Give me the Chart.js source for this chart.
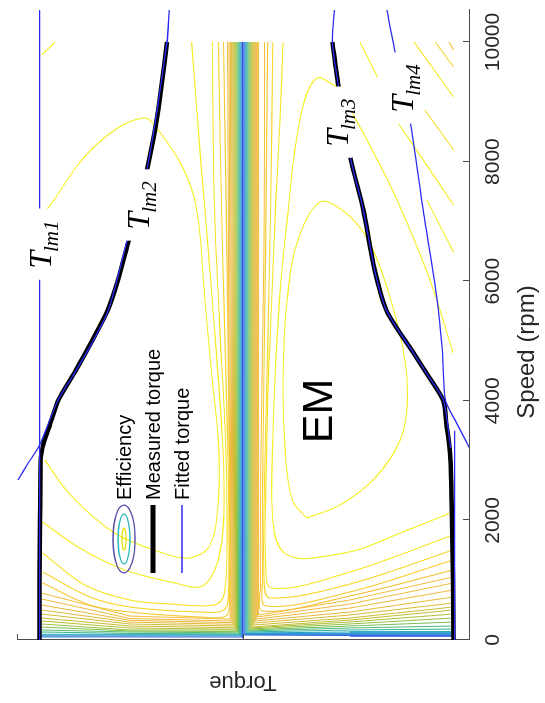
<!DOCTYPE html>
<html>
<head>
<meta charset="utf-8">
<script src="https://cdn.jsdelivr.net/npm/chart.js@4.4.0/dist/chart.umd.min.js"></script>
<style>
  html, body { margin: 0; padding: 0; background: #fff; overflow: hidden; }
  #wrap { position: absolute; left: 0; top: 0; width: 703px; height: 545px;
          transform-origin: 0 0; transform: translate(0, 703px) rotate(-90deg); }
</style>
</head>
<body>
<div id="wrap"><canvas id="chart" width="703" height="545"></canvas></div>
<script>
// axes: speed in rpm, torque in Nm (no torque labels in the figure)
const speedTicks = [0, 2000, 4000, 6000, 8000, 10000];
const torqueTicks = [0, 220];
const speedMax = 10535;

// measured torque envelope
const motorSpeed  = [0, 1000, 2000, 3000, 3300, 3600, 4000, 4500, 5000, 5500, 6000, 6700, 7300, 7900, 8600, 9300, 10000];
const motorTorque = [198, 198, 197.5, 197, 194, 188, 180, 163, 147, 132, 122, 111, 101, 93, 85, 79, 74];
const genSpeed  = [0, 1000, 2000, 3000, 3300, 3600, 4000, 4400, 4800, 5500, 6200, 7200, 8100, 9300, 10000];
const genTorque = [-205, -204.5, -203.5, -202, -200.5, -198, -195, -181, -166, -140, -128, -117, -104, -92.5, -87];

// fitted torque limit lines [speed, torque]
const fitLm1 = [[0, 198], [10535, 198]];
const fitLm2 = [[2676, 219], [2960, 209], [3261, 198], [4013, 180], [4465, 164], [4967, 147], [5518, 131], [6722, 112], [7910, 93], [10000, 74], [10535, 72]];
const fitLm3 = [[3210, -202], [4013, -195], [4400, -181], [4800, -166], [5500, -140], [6200, -128], [7200, -117], [8100, -104], [9300, -92.5], [10000, -87], [10535, -89]];
const fitLm4 = [[3194, -221], [3595, -209], [4013, -197], [4849, -194], [5686, -189], [7224, -175], [8645, -163], [9833, -148], [10535, -140]];
const fitGenFlat = [[0, -206], [3500, -206]];

// efficiency contours, motoring side
const contourA = [[3010,193],[2425,168],[1789,125],[1472,81],[1371,52],[1589,32],[2341,24],[3344,24],[4348,30],[5686,37],[7191,45],[7910,59],[8645,88],[8729,98],[8528,125],[8027,157],[7308,186],[7107,196]];
const contourTL = [[9783,196],[10000,183]];
const contourB = [[10000,50],[8194,42],[7191,37],[5686,30],[3344,20],[2174,18.5],[1505,22],[1087,30],[886,42],[953,66],[1171,115],[1538,159],[1973,195]];
const contourC = [[10000,30],[7358,28],[5351,23],[3344,17],[1672,15.5],[753,18.5],[585,28],[602,71],[669,110],[920,154],[1455,195]];
const contourD = [[10000,24],[6522,20],[3344,15],[836,14],[502,18.5],[468,42],[552,110],[719,149],[1137,195]];
const contourE = [[10000,19],[5686,15],[3344,13.7],[669,13],[401,16.5],[385,42],[468,110],[585,149],[953,195]];
const leftDenseTop    = [15, 13.6, 12.3, 11.1, 10, 9, 8, 7, 6, 5, 4, 3, 2, 1];
const leftDenseTorque = [12.5, 11.6, 10.7, 9.8, 8.9, 8, 7.1, 6.2, 5.3, 4.4, 3.5, 2.6, 1.7, 0.8];
const leftDenseCorner = [350, 318, 290, 262, 234, 205, 180, 160, 140, 120, 100, 84, 67, 50];
const leftDenseMid    = [400, 360, 330, 300, 268, 234, 201, 167, 151, 134, 110, 90, 70, 52];
const leftDenseEdge   = [786, 686, 585, 502, 435, 368, 318, 268, 217, 167, 134, 100, 70, 52];
const leftDenseColors = ['#f3bc3a','#efb93c','#e9b93b','#e0ba38','#d4bb35','#c6bd32','#b4bf34','#9dc03e','#7fbf50','#5abb6c','#36b48d','#1ea6b0','#1b8ad3','#2a64e2'];

// efficiency contours, generating side
const contourR1 = [[2040,-62],[2341,-48],[3177,-41],[4348,-39],[5686,-43],[6689,-53.5],[7324,-75],[7157,-99],[6689,-122],[5853,-141],[4849,-156],[4013,-160],[3344,-153],[2709,-128.5],[2258,-94.5],[2040,-62]];
const contourR2 = [[2140,-204.5],[1789,-153],[1505,-111],[1371,-68],[1371,-52.5],[1472,-39],[1756,-31],[2341,-28],[3344,-29],[4682,-32],[6020,-37],[7191,-44],[8194,-50.5],[9030,-60],[9398,-72],[9314,-85],[9231,-91.5],[8478,-117],[7358,-150],[6020,-182],[4799,-204.5]];
const contourR3 = [[10000,-39],[8696,-36],[7358,-32],[5686,-28],[4013,-24],[2341,-22],[1338,-22],[869,-28],[1137,-104],[1756,-204.5]];
const contourR4 = [[10000,-29],[7358,-27],[4849,-24],[2676,-21],[1003,-20.5],[702,-26],[936,-104],[1505,-204.5]];
const contourR5 = [[10000,-24],[6522,-22],[3177,-19.5],[1000,-19],[569,-22.5],[803,-104],[1338,-204.5]];
const contourR6 = [[10000,-21],[6522,-20.5],[3177,-17.5],[900,-17],[485,-19.5],[736,-104],[1171,-204.5]];
const contourU1 = [[10000,-114],[9415,-131]];
const contourU2 = [[10000,-166.5],[9080,-205]];
const contourU3 = [[10000,-187],[9582,-205]];
const contourU4 = [[10000,-200.5],[9866,-205]];
const contourU6 = [[8645,-151],[7860,-182],[7274,-205]];
const contourU7 = [[8862,-177],[8194,-205]];
const contourU8 = [[7358,-179],[6488,-205]];
const rightDenseTorque = [-15, -14, -13, -12, -11, -10, -9, -8, -7, -6, -5, -4, -3, -2, -1];
const rightDenseCorner = [418, 385, 351, 318, 284, 251, 217, 201, 184, 167, 151, 134, 117, 100, 84];
const rightDenseMid    = [669, 602, 535, 468, 418, 368, 334, 301, 268, 234, 201, 167, 134, 100, 75];
const rightDenseEdge   = [1054, 953, 836, 719, 619, 552, 502, 435, 368, 301, 234, 184, 134, 100, 67];
const rightDenseColors = ['#f3bc3a','#f0ba3c','#ebb93c','#e4b93a','#dbba37','#cfbb34','#c0bd32','#acbf37','#92c045','#72be58','#4cb977','#2cb19a','#1a9fbd','#1d80da','#2c5ce3'];

// text annotations
const lineLabels = [
  { sub: 'lm1', speed: 6620, torque: 197 },
  { sub: 'lm2', speed: 7274, torque: 101 },
  { sub: 'lm3', speed: 8660, torque: -92 },
  { sub: 'lm4', speed: 9231, torque: -156 }
];
const machineLabel = { text: 'EM', speed: 3829, torque: -75.5 };
const legendItems = ['Efficiency', 'Measured torque', 'Fitted torque'];

const yellow = '#f4ef1f';
const lines = [];
function addLine(points, color, width, order, tension) {
  lines.push({
    data: points.map(([s, t]) => ({ x: s, y: t })),
    showLine: true, pointRadius: 0, pointHoverRadius: 0, fill: false,
    borderColor: color, borderWidth: width, tension: tension, order: order
  });
}

// fitted lines on top, then measured, then contours
[fitLm1, fitLm2, fitLm3, fitLm4, fitGenFlat].forEach(f => addLine(f, '#2a2af5', 1.3, 0, 0.25));
addLine(motorSpeed.map((s, i) => [s, motorTorque[i]]), '#000', 4.5, 1, 0.25);
addLine(genSpeed.map((s, i) => [s, genTorque[i]]), '#000', 4.5, 1, 0.25);

addLine(contourA, yellow, 1.1, 2, 0.35);
addLine(contourTL, yellow, 1.1, 2, 0);
addLine(contourB, '#f6ec1e', 1.1, 2, 0.35);
addLine(contourC, '#f7e220', 1.1, 2, 0.35);
addLine(contourD, '#f8d52a', 1.1, 2, 0.35);
addLine(contourE, '#f7c833', 1.1, 2, 0.35);
leftDenseTorque.forEach((t, i) => addLine([[10000, leftDenseTop[i]], [leftDenseCorner[i], t], [leftDenseMid[i], 110], [leftDenseEdge[i], 196]], leftDenseColors[i], 1, 2, 0));

addLine(contourR1, yellow, 1.1, 2, 0.35);
addLine(contourR2, yellow, 1.1, 2, 0.35);
addLine(contourR3, '#f6e622', 1.1, 2, 0.35);
addLine(contourR4, '#f7d82a', 1.1, 2, 0.35);
addLine(contourR5, '#f7cb31', 1.1, 2, 0.35);
addLine(contourR6, '#f5c038', 1.1, 2, 0.35);
addLine(contourU1, yellow, 1.1, 2, 0);
addLine(contourU2, '#f4ea20', 1.1, 2, 0);
addLine(contourU3, '#f6d52a', 1.1, 2, 0);
addLine(contourU4, '#f3c03a', 1.1, 2, 0);
addLine(contourU6, '#f4ec1f', 1.1, 2, 0.3);
addLine(contourU7, '#f6dc26', 1.1, 2, 0);
addLine(contourU8, yellow, 1.1, 2, 0);
rightDenseTorque.forEach((t, i) => addLine([[10000, t], [rightDenseCorner[i], t], [rightDenseMid[i], -104], [rightDenseEdge[i], -204.5]], rightDenseColors[i], 1, 2, 0));
addLine([[10000, 0.2], [30, 0.2]], '#2d4fe0', 1.5, 2, 0);

const overlay = {
  id: 'overlay',
  afterDatasetsDraw(chart) {
    const { ctx, chartArea: area, scales: { x, y } } = chart;
    ctx.save();
    lineLabels.forEach(l => {
      const px = x.getPixelForValue(l.speed), py = y.getPixelForValue(l.torque);
      ctx.font = 'italic 32px "Liberation Serif"';
      const wT = ctx.measureText('T').width;
      ctx.font = 'italic 21px "Liberation Serif"';
      const wS = ctx.measureText(l.sub).width;
      const w = wT + wS;
      ctx.fillStyle = '#fff';
      ctx.fillRect(px - w / 2 - 11, py - 15, w + 22, 30);
      ctx.fillStyle = '#000';
      ctx.textAlign = 'left';
      ctx.textBaseline = 'alphabetic';
      ctx.font = 'italic 32px "Liberation Serif"';
      ctx.fillText('T', px - w / 2, py + 10);
      ctx.font = 'italic 21px "Liberation Serif"';
      ctx.fillText(l.sub, px - w / 2 + wT - 1, py + 17);
    });

    ctx.font = '43px "Liberation Sans", Arial, sans-serif';
    ctx.textAlign = 'center';
    ctx.textBaseline = 'middle';
    ctx.fillText(machineLabel.text, x.getPixelForValue(machineLabel.speed), y.getPixelForValue(machineLabel.torque));

    // legend
    const x0 = area.left + 67, x1 = area.left + 135, cx = (x0 + x1) / 2;
    const rows = [area.top + 107, area.top + 136, area.top + 165];
    [['#5a4ca8', 34, 11], ['#2ab7b5', 25, 6], ['#e8e41c', 11, 2]].forEach(([c, rx, ry]) => {
      ctx.strokeStyle = c; ctx.lineWidth = 1.3;
      ctx.beginPath(); ctx.ellipse(cx, rows[0], rx, ry, 0, 0, Math.PI * 2); ctx.stroke();
    });
    ctx.strokeStyle = '#000'; ctx.lineWidth = 5;
    ctx.beginPath(); ctx.moveTo(x0, rows[1]); ctx.lineTo(x1, rows[1]); ctx.stroke();
    ctx.strokeStyle = '#2a2af5'; ctx.lineWidth = 1.3;
    ctx.beginPath(); ctx.moveTo(x0, rows[2]); ctx.lineTo(x1, rows[2]); ctx.stroke();
    ctx.fillStyle = '#000';
    ctx.font = '20px "Liberation Sans", Arial, sans-serif';
    ctx.textAlign = 'left';
    legendItems.forEach((t, i) => ctx.fillText(t, area.left + 140, rows[i] + 1));
    ctx.restore();
  },
  afterDraw(chart) {
    const { ctx, chartArea: area, scales: { x, y } } = chart;
    ctx.save();
    ctx.strokeStyle = '#4d4d4d'; ctx.lineWidth = 1;
    ctx.beginPath();
    speedTicks.forEach(v => {
      const px = Math.round(x.getPixelForValue(v)) + 0.5;
      ctx.moveTo(px, area.bottom); ctx.lineTo(px, area.bottom - 6);
    });
    torqueTicks.forEach(v => {
      const py = Math.round(y.getPixelForValue(v)) + 0.5;
      ctx.moveTo(area.left, py); ctx.lineTo(area.left + 6, py);
    });
    ctx.stroke();
    ctx.fillStyle = '#262626';
    ctx.font = '24px "Liberation Sans", Arial, sans-serif';
    ctx.textAlign = 'center';
    ctx.textBaseline = 'middle';
    ctx.fillText('Speed (rpm)', area.left + 288, 527);
    ctx.restore();
  }
};

new Chart(document.getElementById('chart'), {
  type: 'scatter',
  data: { datasets: lines },
  options: {
    responsive: false,
    devicePixelRatio: 1,
    animation: false,
    events: [],
    layout: { padding: { top: 17, right: 10, bottom: 0, left: 0 } },
    plugins: { legend: { display: false }, tooltip: { enabled: false } },
    scales: {
      x: {
        type: 'linear', position: 'bottom', min: 0, max: speedMax,
        grid: { display: false, drawTicks: false, tickLength: 0 },
        border: { display: true, color: '#4d4d4d', width: 1 },
        ticks: {
          autoSkip: false, maxRotation: 0,
          padding: 12, color: '#262626',
          font: { size: 21, family: '"Liberation Sans", Arial, sans-serif' },
          callback: v => String(v)
        },
        afterBuildTicks: s => { s.ticks = speedTicks.map(v => ({ value: v })); },
        afterFit: s => { s.height = 76; }
      },
      y: {
        type: 'linear', position: 'left', min: -220, max: 220,
        grid: { display: false, drawTicks: false, tickLength: 0 },
        border: { display: true, color: '#4d4d4d', width: 1 },
        ticks: { display: false },
        afterBuildTicks: s => { s.ticks = torqueTicks.map(v => ({ value: v })); },
        title: {
          display: true, text: 'Torque', color: '#262626',
          font: { size: 22, family: '"Liberation Sans", Arial, sans-serif' },
          padding: { top: 8, bottom: 0 }
        },
        afterFit: s => { s.width = 63; }
      }
    }
  },
  plugins: [overlay]
});
</script>
</body>
</html>
